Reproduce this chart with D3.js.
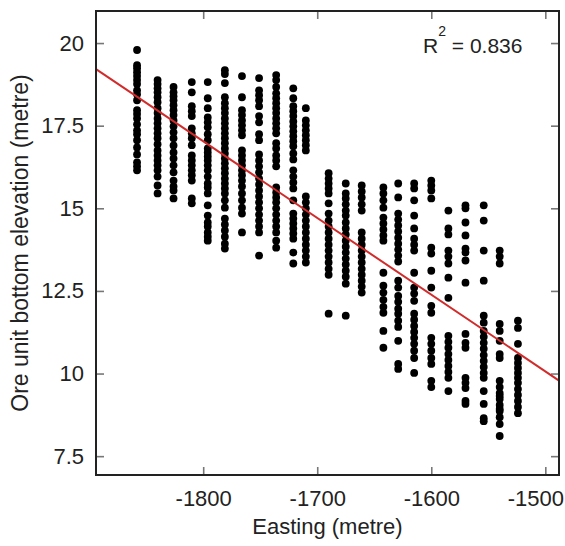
<!DOCTYPE html>
<html><head><meta charset="utf-8">
<script src="https://cdn.jsdelivr.net/npm/d3@7"></script>
<style>body{margin:0;background:#fff}svg{display:block}text{font-family:"Liberation Sans",Arial,sans-serif}</style>
</head><body><svg id="c" width="565" height="546"></svg>
<script>
// Easting of each drill column (metre)
const columnEasting = [-1858,-1840,-1826,-1810,-1796,-1781,-1766,-1751,-1736,-1721,-1710,-1690,-1675,-1661,-1642,-1629,-1615,-1600,-1585,-1570,-1554,-1540,-1524];
// Ore unit bottom elevation (metre) for each column
const elevByColumn = [
 [19.79,19.33,19.24,19.12,19.0,18.88,18.76,18.57,18.45,18.27,17.97,17.85,17.72,17.54,17.36,17.24,17.06,16.84,16.63,16.39,16.27,16.15],
 [18.88,18.76,18.63,18.51,18.36,18.21,18.03,17.88,17.72,17.57,17.42,17.27,17.12,16.94,16.75,16.6,16.45,16.3,16.15,15.96,15.69,15.45],
 [18.67,18.51,18.39,18.27,18.12,17.97,17.82,17.66,17.48,17.3,17.12,16.9,16.69,16.51,16.3,16.09,15.84,15.66,15.54,15.3],
 [18.82,18.51,18.09,17.94,17.79,17.42,17.27,17.12,16.91,16.6,16.45,16.3,16.15,16.0,15.84,15.3,15.15],
 [18.82,18.33,18.03,17.75,17.6,17.45,17.24,17.06,16.81,16.69,16.57,16.45,16.3,16.15,15.96,15.75,15.63,15.45,15.09,14.78,14.57,14.45,14.27,14.14,14.02],
 [19.18,19.06,18.79,18.36,18.18,18.03,17.88,17.72,17.57,17.42,17.27,17.12,16.97,16.81,16.66,16.51,16.36,16.21,16.06,15.9,15.75,15.6,15.45,15.24,15.02,14.69,14.51,14.33,14.14,13.93,13.78],
 [19.0,18.36,17.97,17.82,17.66,17.51,17.36,17.21,16.75,16.6,16.45,16.3,16.15,16.0,15.84,15.66,15.45,15.24,15.02,14.84,14.27],
 [18.94,18.57,18.42,18.27,18.09,17.79,17.6,17.24,17.06,16.63,16.45,16.27,16.09,15.9,15.72,15.54,15.36,15.18,15.0,14.81,14.63,14.45,14.27,13.57],
 [19.03,18.88,18.67,18.48,18.33,18.18,18.03,17.88,17.72,17.57,17.42,17.27,16.97,16.81,16.6,16.45,16.27,15.63,15.48,15.33,15.18,15.0,14.81,14.63,14.45,14.27,14.02,13.81],
 [18.63,18.33,18.09,17.94,17.79,17.63,17.48,17.33,17.18,17.03,16.88,16.66,16.48,16.15,15.96,15.78,15.6,15.24,14.84,14.69,14.54,14.39,14.24,14.08,13.66,13.33],
 [18.03,17.66,17.51,17.36,17.21,17.06,16.91,16.75,15.36,15.18,15.0,14.81,14.63,14.45,14.27,14.08,13.9,13.72,13.54,13.36],
 [16.06,15.9,15.75,15.6,15.45,15.15,14.84,14.63,14.45,14.27,14.08,13.9,13.72,13.54,13.36,13.17,12.99,11.81],
 [15.75,15.45,15.3,15.12,14.93,14.78,14.57,14.39,14.21,14.02,13.84,13.66,13.48,13.3,13.11,12.93,12.72,11.75],
 [15.69,15.51,15.33,15.12,14.93,14.27,14.08,13.9,13.72,13.54,13.36,13.17,12.99,12.81,12.63,12.45],
 [15.63,15.45,15.24,15.02,14.72,14.54,14.36,14.18,14.02,13.05,12.66,12.45,12.23,12.02,11.84,11.29,10.78],
 [15.75,15.33,14.84,14.66,14.48,14.3,14.11,13.93,13.75,13.57,13.39,12.81,12.6,12.35,12.17,11.96,11.81,11.6,11.41,10.99,10.29,10.14],
 [15.75,15.6,15.24,14.78,14.39,14.08,13.9,13.72,13.05,12.6,12.42,12.2,11.81,11.63,11.44,11.26,11.08,10.9,10.69,10.47,10.02],
 [15.84,15.69,15.54,15.3,13.81,13.63,13.11,12.6,12.05,11.84,11.08,10.9,10.69,10.47,10.29,9.78,9.59],
 [14.93,14.39,14.21,13.72,13.54,13.33,12.9,12.29,11.14,10.96,10.78,10.59,10.41,10.23,10.05,9.87,9.47],
 [15.09,15.0,14.57,14.18,13.78,13.66,13.42,12.75,11.2,10.93,10.78,9.87,9.72,9.56,9.17,9.08],
 [15.09,14.63,13.72,12.81,11.75,11.54,11.29,11.11,10.93,10.75,10.56,10.38,10.2,10.02,9.87,9.47,9.08,8.65,8.56],
 [13.72,13.54,13.33,11.5,11.29,10.99,10.59,10.47,9.78,9.59,9.41,9.32,9.23,9.05,8.93,8.87,8.68,8.47,8.11],
 [11.6,11.38,10.9,10.47,10.32,10.17,10.02,9.87,9.72,9.53,9.35,9.17,8.99,8.8]
];
const xTicks = [-1800,-1700,-1600,-1500];
const yTicks = [7.5,10,12.5,15,17.5,20];
const fitSlope = -0.023215, fitIntercept = -24.757;
const rSquared = "0.836";
const xDomain = [-1894,-1488], yDomain = [6.93,20.97];

const points = [];
columnEasting.forEach((e,i)=>elevByColumn[i].forEach(v=>points.push({x:e,y:v})));

const svg = d3.select("#c");
const L=96,R=559,T=11,B=475;
const x = d3.scaleLinear().domain(xDomain).range([L,R]);
const y = d3.scaleLinear().domain(yDomain).range([B,T]);
const fs = 22;

function styleAxis(g, showText){
  g.select(".domain").remove();
  g.selectAll(".tick line").attr("stroke","#777").attr("stroke-width",1.6);
  g.selectAll(".tick text").attr("font-size",fs).attr("fill","#222")
    .attr("font-family","Liberation Sans, Arial, sans-serif");
  if(!showText) g.selectAll(".tick text").remove();
}
svg.append("g").attr("transform",`translate(0,${B})`)
  .call(d3.axisBottom(x).tickValues(xTicks).tickSizeInner(-8).tickSizeOuter(0).tickPadding(15).tickFormat(d=>String(d)))
  .call(g=>styleAxis(g,true))
  .call(g=>g.selectAll(".tick text").filter(d=>d===xTicks[xTicks.length-1]).attr("dx",-10));
svg.append("g").attr("transform",`translate(0,${T})`)
  .call(d3.axisTop(x).tickValues(xTicks).tickSizeInner(-8).tickSizeOuter(0))
  .call(g=>styleAxis(g,false));
svg.append("g").attr("transform",`translate(${L},0)`)
  .call(d3.axisLeft(y).tickValues(yTicks).tickSizeInner(-8).tickSizeOuter(0).tickPadding(12).tickFormat(d=>String(d)))
  .call(g=>styleAxis(g,true));
svg.append("g").attr("transform",`translate(${R},0)`)
  .call(d3.axisRight(y).tickValues(yTicks).tickSizeInner(-8).tickSizeOuter(0))
  .call(g=>styleAxis(g,false));

// points
svg.append("g").selectAll("circle").data(points).join("circle")
  .attr("cx",d=>x(d.x)).attr("cy",d=>y(d.y)).attr("r",3.9).attr("fill","#000");

// regression line
svg.append("line")
  .attr("x1",x(xDomain[0])).attr("y1",y(fitIntercept+fitSlope*xDomain[0]))
  .attr("x2",x(xDomain[1])).attr("y2",y(fitIntercept+fitSlope*xDomain[1]))
  .attr("stroke","#d12b2b").attr("stroke-width",2);

// frame
svg.append("rect").attr("x",L).attr("y",T).attr("width",R-L).attr("height",B-T)
  .attr("fill","none").attr("stroke","#222").attr("stroke-width",2);

// R^2
const rt = svg.append("text").attr("x",423).attr("y",53).attr("font-size",21).attr("fill","#222");
rt.append("tspan").text("R");
rt.append("tspan").attr("font-size",14).attr("dy",-17).text("2");
rt.append("tspan").attr("dy",17).text(" = " + rSquared);

// axis titles
svg.append("text").attr("x",(L+R)/2).attr("y",534).attr("text-anchor","middle")
  .attr("font-size",fs).attr("fill","#222").text("Easting (metre)");
svg.append("text").attr("transform",`translate(28,${(T+B)/2}) rotate(-90)`).attr("text-anchor","middle")
  .attr("font-size",23).attr("fill","#222").text("Ore unit bottom elevation (metre)");
</script></body></html>
